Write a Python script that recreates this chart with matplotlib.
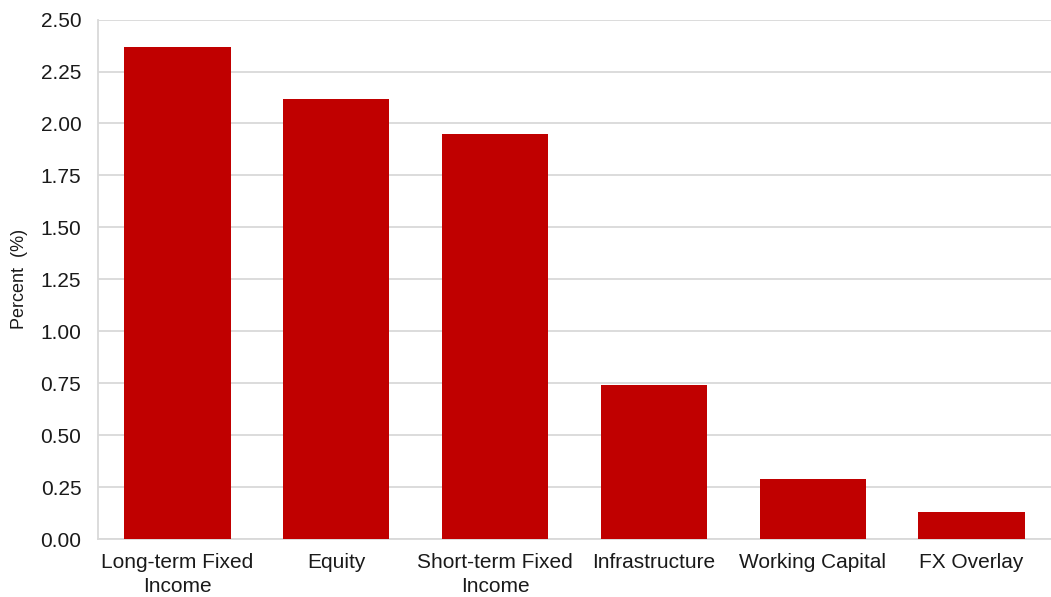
import matplotlib
matplotlib.use('Agg')
import matplotlib.pyplot as plt
import numpy as np

plt.rcParams['font.family'] = ['Liberation Sans', 'DejaVu Sans']

categories = ['Long-term Fixed\nIncome', 'Equity', 'Short-term Fixed\nIncome',
              'Infrastructure', 'Working Capital', 'FX Overlay']
values = [2.37, 2.12, 1.95, 0.74, 0.29, 0.13]
yticks = [0.00, 0.25, 0.50, 0.75, 1.00, 1.25, 1.50, 1.75, 2.00, 2.25, 2.50]

fig = plt.figure(figsize=(10.51, 5.97), dpi=100)
ax = fig.add_axes([0.0932, 0.0966, 0.9068, 0.8707])

xxx = np.arange(len(categories))
ax.bar(xxx, values, width=0.67, color='#c00000', zorder=3)

ax.set_xlim(-0.5, len(categories) - 0.5)
ax.set_ylim(0, 2.5)
ax.set_yticks(yticks)
ax.set_yticklabels(['%.2f' % v for v in yticks], fontsize=15)
ax.set_xticks(xxx)
ax.set_xticklabels(categories, fontsize=15, linespacing=1.35)
ax.tick_params(axis='both', length=0, colors='#1a1a1a')
ax.tick_params(axis='y', pad=12)
ax.tick_params(axis='x', pad=10)

ax.grid(axis='y', color='#d9d9d9', linewidth=1.3, zorder=0)
for side in ['top', 'right']:
    ax.spines[side].set_visible(False)
for side in ['left', 'bottom']:
    ax.spines[side].set_color('#d9d9d9')
    ax.spines[side].set_linewidth(1.3)

ax.set_ylabel('Percent  (%)', fontsize=13, color='#1a1a1a', labelpad=9)

plt.savefig('out.png', dpi=100)
